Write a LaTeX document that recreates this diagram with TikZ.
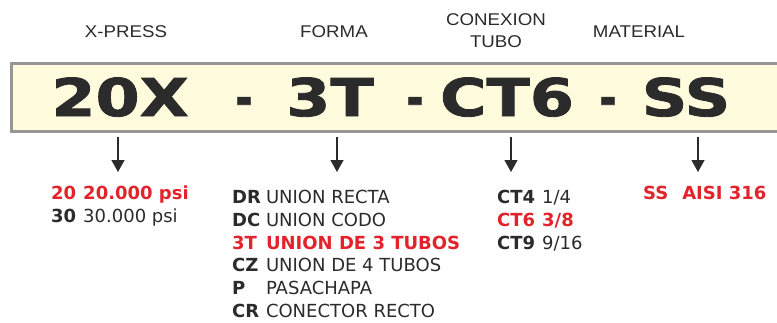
\documentclass[tikz,border=0pt]{standalone}
\usepackage{fontspec}
\setmainfont{DejaVu Sans}
\newfontfamily\hdrfont[FakeStretch=1.1]{Liberation Sans}
\newfontfamily\codefont[FakeStretch=1.22,FakeBold=1.6]{DejaVu Sans Bold}
\usetikzlibrary{arrows.meta}
\definecolor{boxfill}{HTML}{FFFBDC}
\definecolor{boxline}{HTML}{969696}
\definecolor{ink}{HTML}{2B2B2B}
\definecolor{codered}{HTML}{E3232C}
\tikzset{
    hdr/.style={font=\hdrfont\fontsize{17}{22}\selectfont, text=ink, align=center, inner sep=0},
    code/.style={font=\codefont\fontsize{52}{60}\selectfont, text=ink, anchor=base, inner sep=0},
    codelist/.style={font=\fontsize{18}{22.8}\selectfont, text=ink, anchor=base west, inner sep=0},
    arr/.style={-{Triangle[width=13pt,length=12pt]}, line width=1.3pt, ink},
}
\newcommand{\hl}[1]{\textcolor{codered}{\bfseries #1}}
\newcommand{\sep}{\scalebox{0.65}[1]{-}}
\begin{document}
\begin{tikzpicture}[x=1pt,y=-1pt]
    \clip (0,0) rectangle (777,322);
    % headers
    \node[hdr] (hpress) at (126,32) {X-PRESS};
    \node[hdr] (hforma) at (334,32) {FORMA};
    \node[hdr] (htubo) at (496,31) {CONEXION\\TUBO};
    \node[hdr] (hmat) at (639,32) {MATERIAL};
    % code box
    \node[draw=boxline, fill=boxfill, line width=3pt, minimum width=790pt, minimum height=68pt, anchor=north west, inner sep=0] (box) at (10,61.5) {};
    \node[code] (t20x) at (120,116) {20X};
    \node[code] (dash1) at (244,116) {\sep};
    \node[code] (t3t) at (330,116) {3T};
    \node[code] (dash2) at (415,116) {\sep};
    \node[code] (tct6) at (507,116) {CT6};
    \node[code] (dash3) at (608,116) {\sep};
    \node[code] (tss) at (686,116) {SS};
    % arrows
    \coordinate (apress) at (118,172);
    \coordinate (aforma) at (337,172);
    \coordinate (atubo) at (511,172);
    \coordinate (amat) at (698,172);
    \foreach \c in {apress,aforma,atubo,amat}
        \draw[arr] ([yshift=-4pt]box.south -| \c) -- (\c);
    % option lists
    \node[codelist] (lpress) at (51,199.5) {\begin{tabular}[t]{@{}l@{\hspace{7pt}}l@{}}
        \hl{20} & \hl{20.000 psi}\\
        \bfseries 30 & 30.000 psi
    \end{tabular}};
    \node[codelist] (lforma) at (232,203.5) {\begin{tabular}[t]{@{}l@{\hspace{5pt}}l@{}}
        \bfseries DR & UNION RECTA\\
        \bfseries DC & UNION CODO\\
        \hl{3T} & \hl{UNION DE 3 TUBOS}\\
        \bfseries CZ & UNION DE 4 TUBOS\\
        \bfseries P & PASACHAPA\\
        \bfseries CR & CONECTOR RECTO
    \end{tabular}};
    \node[codelist] (ltubo) at (497,203.5) {\begin{tabular}[t]{@{}l@{\hspace{7pt}}l@{}}
        \bfseries CT4 & 1/4\\
        \hl{CT6} & \hl{3/8}\\
        \bfseries CT9 & 9/16
    \end{tabular}};
    \node[codelist] (lmat) at (643,199.5) {\hl{SS\hspace{14pt}AISI 316}};
\end{tikzpicture}
\end{document}
